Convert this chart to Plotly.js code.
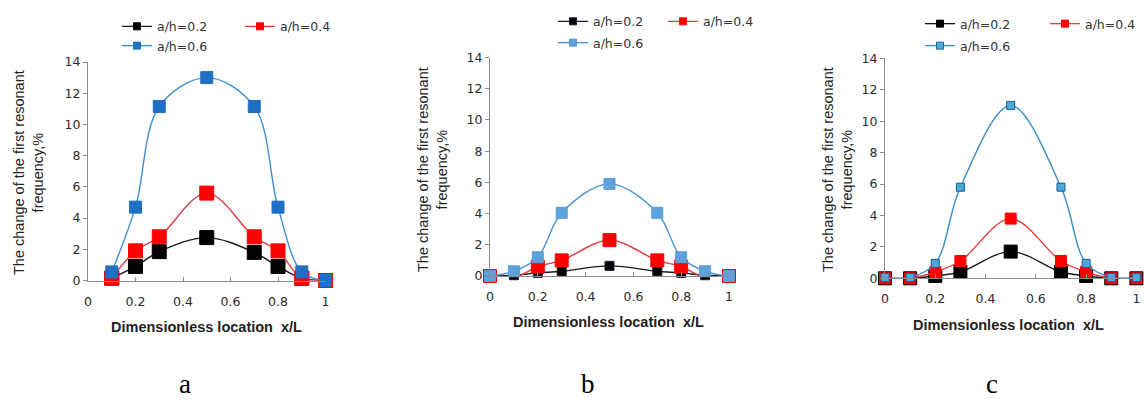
<!DOCTYPE html>
<html>
<head>
<meta charset="utf-8">
<script src="https://cdn.plot.ly/plotly-3.0.1.min.js"></script>
<style>html,body{margin:0;padding:0;background:#fff;}#chart{width:1144px;height:402px;}</style>
</head>
<body>
<div id="chart"></div>
<script>
// ---------- data ----------
const seriesNames = ["a/h=0.2", "a/h=0.4", "a/h=0.6"];
const panelLetters = ["a", "b", "c"];
const xTickVals = [0, 0.2, 0.4, 0.6, 0.8, 1];
const xTickText = ["0", "0.2", "0.4", "0.6", "0.8", "1"];
const yTickVals = [0, 2, 4, 6, 8, 10, 12, 14];
const yTickText = ["0", "2", "4", "6", "8", "10", "12", "14"];
const xTitle = "Dimensionless location  x/L";
const yTitle = "The change of the first resonant<br>frequency,%";

// panel a
const xA = [0.1, 0.2, 0.3, 0.5, 0.7, 0.8, 0.9, 1.0];
const a_02 = [0.15, 0.9, 1.85, 2.75, 1.8, 0.9, 0.15, 0];
const a_04 = [0.15, 1.9, 2.8, 5.6, 2.8, 1.9, 0.15, 0];
const a_06 = [0.55, 4.7, 11.15, 13.0, 11.15, 4.7, 0.55, 0];
// panel b
const xB = [0, 0.1, 0.2, 0.3, 0.5, 0.7, 0.8, 0.9, 1.0];
const b_02 = [0, 0.05, 0.2, 0.3, 0.65, 0.3, 0.2, 0.05, 0];
const b_04 = [0, -0.1, 0.6, 1.0, 2.3, 1.0, 0.6, -0.1, 0];
const b_06 = [0, 0.3, 1.2, 4.05, 5.9, 4.05, 1.2, 0.3, 0];
// panel c
const xC = [0, 0.1, 0.2, 0.3, 0.5, 0.7, 0.8, 0.9, 1.0];
const c_02 = [0, 0, 0.15, 0.4, 1.7, 0.4, 0.15, 0, 0];
const c_04 = [0, 0, 0.4, 1.1, 3.8, 1.1, 0.4, 0, 0];
const c_06 = [0.05, 0.05, 0.95, 5.8, 11.0, 5.8, 0.95, 0.05, 0.05];

// ---------- styling ----------
const W = 1144, H = 402;
const px = v => v / W;
const py = v => 1 - v / H;

const panels = [
  {x: xA, ys: [a_02, a_04, a_06], xd: [88, 325.5], y0: 280.5, y14: 62,
   colors: [
     {line: "#1a1a1a", fill: "#000000", border: "#000000", size: 14},
     {line: "#e23c3c", fill: "#ff0000", border: "#ff0000", size: 14},
     {line: "#3d8fd1", fill: "#1f6fc4", border: "#1f6fc4", size: 12}],
   leg: [[117, 26.7], [240, 26.7], [117, 46]],
   ytitle: [28, 173], xtitle: [206, 326.5], letter: [185, 384]},
  {x: xB, ys: [b_02, b_04, b_06], xd: [490, 729], y0: 276, y14: 57.5,
   colors: [
     {line: "#1a1a1a", fill: "#000000", border: "#1a1a33", size: 9},
     {line: "#e23c3c", fill: "#ff0000", border: "#ff0000", size: 13},
     {line: "#4a92d4", fill: "#5ea2dc", border: "#5a9bd6", size: 11}],
   leg: [[553, 21.7], [663, 21.7], [553, 43]],
   ytitle: [433, 170], xtitle: [608, 321.5], letter: [588, 384]},
  {x: xC, ys: [c_02, c_04, c_06], xd: [885, 1136.4], y0: 278.3, y14: 58.3,
   colors: [
     {line: "#1a1a1a", fill: "#000000", border: "#000000", size: 13},
     {line: "#e23c3c", fill: "#ff0000", border: "#ff0000", size: 11},
     {line: "#3b8fc6", fill: "#4aaad8", border: "#1f5f99", size: 8}],
   leg: [[920, 24], [1045, 24], [920, 46]],
   ytitle: [838, 170], xtitle: [1008, 325], letter: [992, 384]}
];

const traces = [];
const layout = {
  width: W, height: H, autosize: false,
  margin: {l: 0, r: 0, t: 0, b: 0, pad: 0},
  paper_bgcolor: "#ffffff", plot_bgcolor: "rgba(0,0,0,0)",
  showlegend: true,
  font: {family: "DejaVu Sans", size: 12.5, color: "#333333"},
  annotations: []
};

let legIdx = 1;
panels.forEach((p, i) => {
  const n = i + 1;
  const xa = "xaxis" + (n === 1 ? "" : n), ya = "yaxis" + (n === 1 ? "" : n);
  const xr = "x" + (n === 1 ? "" : n), yr = "y" + (n === 1 ? "" : n);
  layout[xa] = {
    domain: [px(p.xd[0]), px(p.xd[1])], range: [0, 1], anchor: yr,
    showgrid: false, zeroline: false, showline: true, linecolor: "#8c8c8c", linewidth: 1,
    ticks: "inside", ticklen: 4, tickcolor: "#8c8c8c", tickwidth: 1,
    tickmode: "array", tickvals: xTickVals, ticktext: xTickText,
    ticklabelstandoff: 9,
    tickfont: {family: "DejaVu Sans", size: 12.5, color: "#2b2b2b"},
    fixedrange: true
  };
  layout[ya] = {
    domain: [py(p.y0), py(p.y14)], range: [0, 14], anchor: xr,
    showgrid: false, zeroline: false, showline: true, linecolor: "#8c8c8c", linewidth: 1,
    ticks: "outside", ticklen: 4, tickcolor: "#8c8c8c", tickwidth: 1,
    tickmode: "array", tickvals: yTickVals, ticktext: yTickText,
    tickfont: {family: "DejaVu Sans", size: 12.5, color: "#2b2b2b"},
    fixedrange: true
  };
  p.ys.forEach((y, s) => {
    const c = p.colors[s];
    const legId = "legend" + (legIdx === 1 ? "" : legIdx);
    layout[legId] = {
      x: px(p.leg[s][0]), y: py(p.leg[s][1]), xref: "paper", yref: "paper",
      xanchor: "left", yanchor: "middle", orientation: "v",
      bgcolor: "rgba(0,0,0,0)", borderwidth: 0,
      font: {family: "DejaVu Sans", size: 12.5, color: "#333333"},
      itemclick: false, itemdoubleclick: false
    };
    legIdx++;
    traces.push({
      type: "scatter", mode: "lines+markers", x: p.x, y: y, xaxis: xr, yaxis: yr,
      name: seriesNames[s], legend: legId, showlegend: true,
      line: {color: c.line, width: 1.4, shape: "spline", smoothing: 1},
      marker: {symbol: "square", size: 7, color: c.fill, line: {color: c.border, width: 1}},
      cliponaxis: false, hoverinfo: "skip"
    });
    traces.push({
      type: "scatter", mode: "markers", x: p.x, y: y, xaxis: xr, yaxis: yr,
      name: seriesNames[s], showlegend: false,
      marker: {symbol: "square", size: c.size, color: c.fill, line: {color: c.border, width: 1}},
      cliponaxis: false, hoverinfo: "skip"
    });
  });
  layout.annotations.push({
    text: yTitle, textangle: -90, showarrow: false, xref: "paper", yref: "paper",
    x: px(p.ytitle[0]), y: py(p.ytitle[1]), xanchor: "center", yanchor: "middle",
    font: {family: "Liberation Sans", size: 14.5, color: "#222222"}
  });
  layout.annotations.push({
    text: "<b>" + xTitle + "</b>", showarrow: false, xref: "paper", yref: "paper",
    x: px(p.xtitle[0]), y: py(p.xtitle[1]), xanchor: "center", yanchor: "middle",
    font: {family: "Liberation Sans", size: 14.5, color: "#222222"}
  });
  layout.annotations.push({
    text: panelLetters[i], showarrow: false, xref: "paper", yref: "paper",
    x: px(p.letter[0]), y: py(p.letter[1]), xanchor: "center", yanchor: "middle",
    font: {family: "Liberation Serif", size: 27, color: "#000000"}
  });
});

Plotly.newPlot("chart", traces, layout, {staticPlot: true, displayModeBar: false});
</script>
</body>
</html>
